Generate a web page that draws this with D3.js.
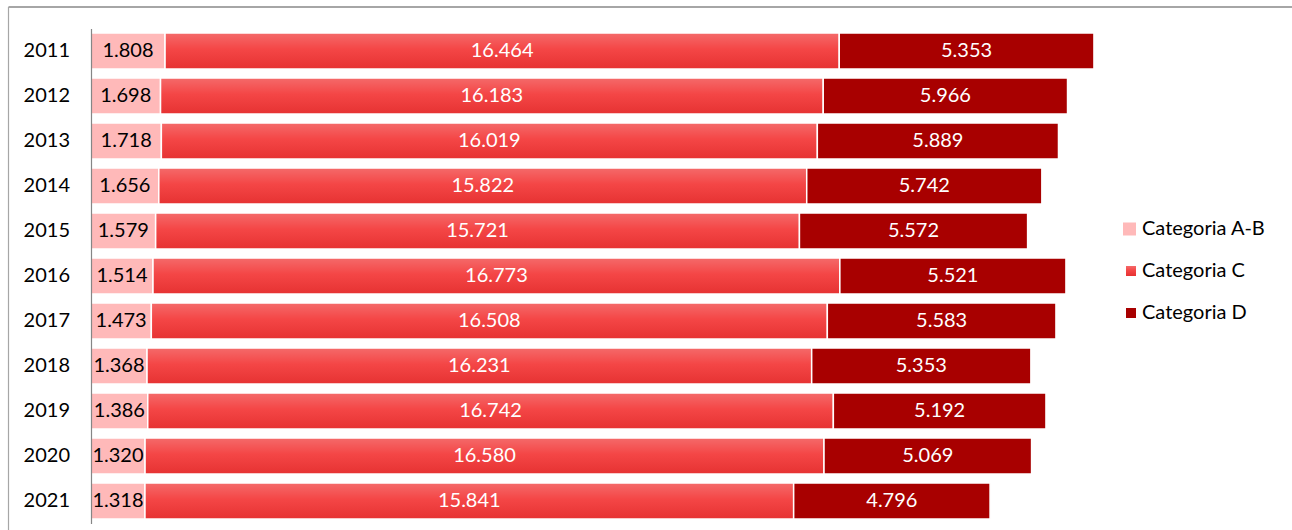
<!DOCTYPE html>
<html><head><meta charset="utf-8">
<script src="https://cdn.jsdelivr.net/npm/d3@7"></script>
<style>body{margin:0;background:#fff;}svg{display:block;}</style>
</head><body>
<svg id="c" width="1292" height="530"></svg>
<script>
const years = ["2011","2012","2013","2014","2015","2016","2017","2018","2019","2020","2021"];
const seriesNames = ["Categoria A-B","Categoria C","Categoria D"];
const catAB = [1.808,1.698,1.718,1.656,1.579,1.514,1.473,1.368,1.386,1.320,1.318];
const catC  = [16.464,16.183,16.019,15.822,15.721,16.773,16.508,16.231,16.742,16.580,15.841];
// bar length of 2011 D as drawn in the picture (~6.22) differs from its printed label
const catD  = [6.22,5.966,5.889,5.742,5.572,5.521,5.583,5.353,5.192,5.069,4.796];
const labAB = ["1.808","1.698","1.718","1.656","1.579","1.514","1.473","1.368","1.386","1.320","1.318"];
const labC  = ["16.464","16.183","16.019","15.822","15.721","16.773","16.508","16.231","16.742","16.580","15.841"];
const labD  = ["5.353","5.966","5.889","5.742","5.572","5.521","5.583","5.353","5.192","5.069","4.796"];

const svg = d3.select("#c");
const font = "Lato, 'Liberation Sans', sans-serif";

const defs = svg.append("defs");
const g1 = defs.append("linearGradient").attr("id","gC").attr("x1",0).attr("y1",0).attr("x2",0).attr("y2",1);
g1.append("stop").attr("offset","0%").attr("stop-color","#f46a6a");
g1.append("stop").attr("offset","45%").attr("stop-color","#f44646");
g1.append("stop").attr("offset","100%").attr("stop-color","#e63232");

// frame
svg.append("line").attr("x1",8.5).attr("x2",1292).attr("y1",7).attr("y2",7).attr("stroke","#a6a6a6").attr("stroke-width",2);
svg.append("line").attr("x1",8.5).attr("x2",8.5).attr("y1",7).attr("y2",530).attr("stroke","#a6a6a6").attr("stroke-width",1.2);

const x = d3.scaleLinear().domain([0,30]).range([91, 91+30*40.95]);
const y = d3.scaleBand().domain(years).range([28.5,523.5]).paddingInner(0.2).paddingOuter(0.1);

const rows = years.map((yr,i)=>({yr, ab:catAB[i], c:catC[i], d:catD[i], i}));
const stack = d3.stack().keys(["ab","c","d"])(rows);
const fills = ["#ffb9b9","url(#gC)","#a80000"];
const labels = [labAB, labC, labD];
const textCol = ["#000","#fff","#fff"];

stack.forEach((layer,k)=>{
  const g = svg.append("g");
  g.selectAll("rect").data(layer).join("rect")
    .attr("x", d=>x(d[0]))
    .attr("y", d=>y(d.data.yr))
    .attr("width", d=>x(d[1])-x(d[0]))
    .attr("height", y.bandwidth())
    .attr("fill", fills[k])
    .attr("stroke","#fff").attr("stroke-width",1.5);
  g.selectAll("text").data(layer).join("text")
    .attr("x", d=>(x(d[0])+x(d[1]))/2)
    .attr("y", d=>y(d.data.yr)+y.bandwidth()/2+1)
    .attr("text-anchor","middle").attr("dominant-baseline","middle")
    .attr("font-family",font).attr("font-size",20)
    .attr("fill",textCol[k])
    .text(d=>labels[k][d.data.i]);
});

// y axis
const ax = svg.append("g").attr("transform","translate(91,0)")
  .call(d3.axisLeft(y).tickSize(0).tickPadding(21));
ax.select(".domain").attr("stroke","#868686").attr("stroke-width",1.2);
ax.selectAll("text").attr("font-family",font).attr("font-size",20).attr("fill","#000");

// legend
const leg = svg.append("g");
const legY = [229,271,313];
const sq = [13,10,10];
seriesNames.forEach((n,k)=>{
  leg.append("rect").attr("x",1136-sq[k]).attr("y",legY[k]-sq[k]/2).attr("width",sq[k]).attr("height",sq[k]).attr("fill",fills[k]);
  leg.append("text").attr("x",1142).attr("y",legY[k]+1).attr("dominant-baseline","middle")
    .attr("font-family",font).attr("font-size",20).attr("fill","#000").text(n);
});
</script>
</body></html>
